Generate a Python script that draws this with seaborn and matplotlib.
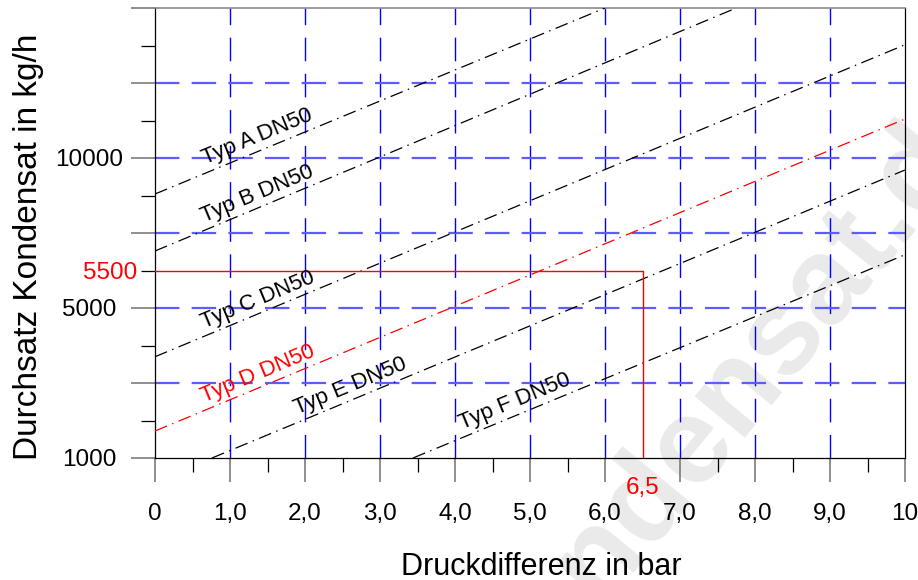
import numpy as np
import pandas as pd
import matplotlib
matplotlib.use("Agg")
import matplotlib.pyplot as plt
import seaborn as sns

# ---------------- data (x in bar, y in chart grid units: 1000 -> 0, 5000 -> 2, 10000 -> 4) -------------
types = ["Typ A DN50", "Typ B DN50", "Typ C DN50", "Typ D DN50", "Typ E DN50", "Typ F DN50"]
line_x_start = [0.0, 0.0, 0.0, 0.0, 0.76, 3.44]
line_y_start = [3.52, 2.76, 1.35, 0.36, 0.0, 0.0]
line_x_end = [6.0, 7.75, 10.0, 10.0, 10.0, 10.0]
line_y_end = [6.0, 6.0, 5.51, 4.52, 3.84, 2.71]
line_colors = ["black", "black", "black", "red", "black", "black"]
label_x = [1.37, 1.37, 1.37, 1.37, 2.61, 4.80]

x_ticks = [0, 1, 2, 3, 4, 5, 6, 7, 8, 9, 10]
x_tick_labels = ["0", "1,0", "2,0", "3,0", "4,0", "5,0", "6,0", "7,0", "8,0", "9,0", "10"]
y_ticks = [0, 1, 2, 3, 4, 5, 6]
y_tick_labels = ["1000", "", "5000", "", "10000", "", ""]

reading_x = 6.5
reading_x_label = "6,5"
reading_y = 2.5
reading_y_label = "5500"

watermark = "kondensat.de"

# ---------------- style ----------------
sns.set_style("white")
plt.rcParams["font.family"] = ["Liberation Sans", "DejaVu Sans"]

fig = plt.figure(figsize=(9.18, 5.80), dpi=100)
ax = fig.add_axes([155 / 918, 122 / 580, 750 / 918, 450 / 580])
ax.set_axisbelow(True)

# type lines
rows = []
for t, x0, y0, x1, y1 in zip(types, line_x_start, line_y_start, line_x_end, line_y_end):
    rows.append({"typ": t, "x": x0, "y": y0})
    rows.append({"typ": t, "x": x1, "y": y1})
df = pd.DataFrame(rows)
dashdot = (10.4, 4.4, 1.2, 4.4)
sns.lineplot(data=df, x="x", y="y", hue="typ", style="typ",
             palette=dict(zip(types, line_colors)),
             dashes={t: dashdot for t in types},
             estimator=None, sort=False, legend=False, lw=0.9, ax=ax, zorder=3)

# reading lines (5500 kg/h at 6,5 bar)
df_read = pd.DataFrame({"x": [0.0, reading_x, reading_x], "y": [reading_y, reading_y, 0.0]})
sns.lineplot(data=df_read, x="x", y="y", estimator=None, sort=False, color="#ff0000",
             lw=1.0, ax=ax, zorder=3)

ax.set_xlim(0, 10)
ax.set_ylim(0, 6)

# ticks
ax.set_xticks(x_ticks, labels=x_tick_labels)
minor_x = [v + 0.5 for v in x_ticks[:-1]]
ax.set_xticks(minor_x, labels=[reading_x_label if v == reading_x else "" for v in minor_x], minor=True)
ax.set_yticks(y_ticks, labels=y_tick_labels)
minor_y = [v + 0.5 for v in y_ticks[:-1]]
ax.set_yticks(minor_y, labels=[reading_y_label if v == reading_y else "" for v in minor_y], minor=True)

ax.tick_params(which="both", bottom=True, left=True, top=False, right=False, direction="out")
ax.tick_params(which="major", length=17.5, width=1.1, color="#707070", labelsize=17.5, labelcolor="black")
ax.tick_params(axis="x", which="major", pad=15.2)
ax.tick_params(axis="y", which="major", pad=30)
ax.tick_params(which="minor", length=10, width=0.9, color="black", labelsize=17.5, labelcolor="#ff0000")
ax.tick_params(axis="x", which="minor", pad=3.4)
ax.tick_params(axis="y", which="minor", pad=2.9)

# grid
ax.grid(axis="x", which="major", color="#0000ff", lw=1.0, linestyle=(0, (17, 9)))
ax.grid(axis="y", which="major", color="#5c5cff", lw=1.6, linestyle=(0, (11, 5.5)))

for lab in ax.get_yticklabels():
    lab.set_ha("center")

xt = ax.xaxis.get_major_ticks()
yt = ax.yaxis.get_major_ticks()
for tk in (xt[0], xt[-1], yt[0]):
    tk.tick1line.set_color("black")
for tk in (xt[0], xt[-1], yt[0], yt[-1]):
    tk.gridline.set_visible(False)
ax.xaxis.get_minor_ticks()[minor_x.index(reading_x)].tick1line.set_visible(False)

# spines
for s in ["left", "bottom", "right"]:
    ax.spines[s].set_color("black")
    ax.spines[s].set_linewidth(0.9)
ax.spines["top"].set_color("#808080")
ax.spines["top"].set_linewidth(1.1)
for s in ax.spines.values():
    s.set_visible(True)

# line labels
for t, x0, y0, x1, y1, c, lx in zip(types, line_x_start, line_y_start, line_x_end, line_y_end,
                                    line_colors, label_x):
    slope = (y1 - y0) / (x1 - x0)
    ly = y0 + slope * (lx - x0) + 0.19
    ang = np.degrees(np.arctan2(y1 - y0, x1 - x0))
    ax.text(lx, ly, t, rotation=ang, rotation_mode="anchor", transform_rotates_text=True,
            ha="center", va="center", fontsize=16, color=c, zorder=4)

# axis labels
ax.set_xlabel("Druckdifferenz in bar", fontsize=22, color="black")
ax.xaxis.set_label_coords(0.515, -0.208)
ax.set_ylabel("Durchsatz Kondensat in kg/h", fontsize=24, color="black")
ax.yaxis.set_label_coords(-0.148, 0.47)

# watermark (cut off by the figure edges, as in the reference)
ax.text(735 / 918, 1 - 390 / 580, watermark, transform=fig.transFigure, rotation=50.5,
        rotation_mode="anchor", ha="center", va="center", fontsize=88, fontweight="bold",
        color="#eaeaea", zorder=0.2, clip_on=False)

fig.savefig("out.png", dpi=100)
